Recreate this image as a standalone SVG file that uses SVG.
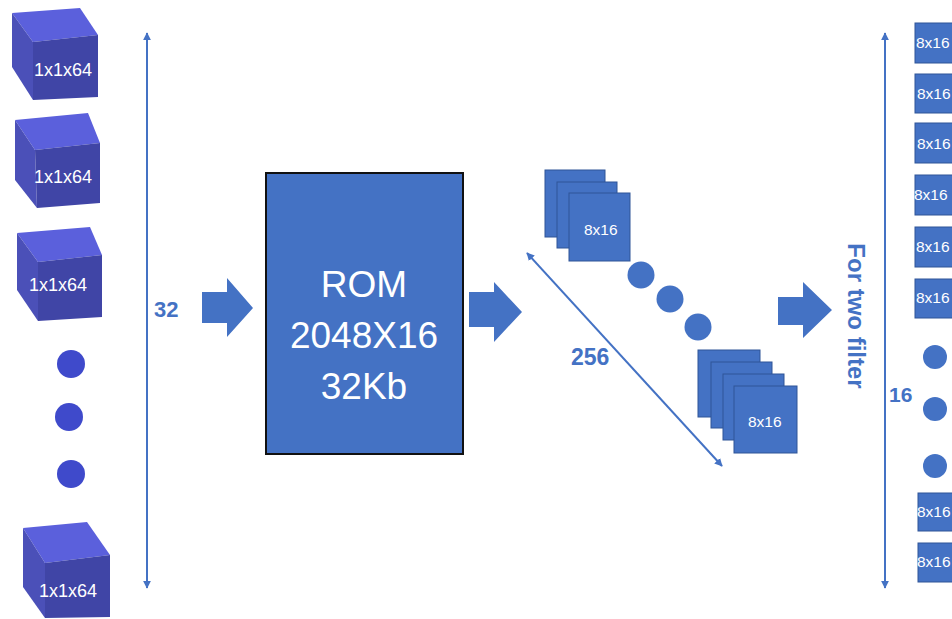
<svg xmlns="http://www.w3.org/2000/svg" width="952" height="619" viewBox="0 0 952 619">
  <defs>
    <marker id="tip" viewBox="0 0 10 10" refX="9" refY="5" markerWidth="4" markerHeight="4" orient="auto-start-reverse" markerUnits="strokeWidth">
      <path d="M0,0 L10,5 L0,10 Z" fill="#4472c4"/>
    </marker>
  </defs>
  <style>
    .top { fill: #5b60dc; }
    .front { fill: #4045a6; }
    .side { fill: #4b50b8; }
    .cubelbl { font-family: "Liberation Sans", Arial, sans-serif; font-size: 18px; fill: #ffffff; text-anchor: middle; }
    .dotL { fill: #3f4acb; }
    .dot { fill: #4472c4; }
    .sheet { fill: #4472c4; stroke: #2f5597; stroke-width: 1; }
    .lbl8 { font-family: "Liberation Sans", Arial, sans-serif; font-size: 15.5px; fill: #ffffff; }
    .dim { stroke: #4472c4; stroke-width: 2; fill: none; marker-start: url(#tip); marker-end: url(#tip); }
    .dimtxt { font-family: "Liberation Sans", Arial, sans-serif; font-weight: bold; fill: #4472c4; }
    .blk { fill: #4472c4; }
    .rom { fill: #4472c4; stroke: #111111; stroke-width: 2; }
    .romtxt { font-family: "Liberation Sans", Arial, sans-serif; font-size: 37px; fill: #ffffff; text-anchor: middle; }
  </style>

  <rect width="952" height="619" fill="#ffffff"/>

  <!-- input vectors -->
  <g id="cube1">
    <polygon class="top" points="12,13 80,8 98,35 33,42"/>
    <polygon class="side" points="12,13 33,42 33,100 12,67"/>
    <polygon class="front" points="33,42 98,35 98,97 33,100"/>
    <text class="cubelbl" x="63" y="76">1x1x64</text>
  </g>
  <g id="cube2">
    <polygon class="top" points="15,120 88,113 100,143 35,150"/>
    <polygon class="side" points="15,120 35,150 37,208 15,180"/>
    <polygon class="front" points="35,150 100,143 100,203 37,208"/>
    <text class="cubelbl" x="63" y="183">1x1x64</text>
  </g>
  <g id="cube3">
    <polygon class="top" points="17,233 90,227 102,255 38,262"/>
    <polygon class="side" points="17,233 38,262 38,321 17,290"/>
    <polygon class="front" points="38,262 102,255 102,317 38,321"/>
    <text class="cubelbl" x="58" y="291">1x1x64</text>
  </g>
  <g id="cube-dots">
    <circle class="dotL" cx="71" cy="364" r="14"/>
    <circle class="dotL" cx="69" cy="417" r="14"/>
    <circle class="dotL" cx="71" cy="474" r="14"/>
  </g>
  <g id="cube4">
    <polygon class="top" points="23,528 87,522 110,555 45,563"/>
    <polygon class="side" points="23,528 45,563 45,618 23,587"/>
    <polygon class="front" points="45,563 110,555 110,617 45,618"/>
    <text class="cubelbl" x="68" y="597">1x1x64</text>
  </g>

  <!-- memory block -->
  <g id="rom">
    <rect class="rom" x="266" y="173" width="197" height="281"/>
    <text class="romtxt" x="364" y="297">ROM</text>
    <text class="romtxt" x="364" y="348">2048X16</text>
    <text class="romtxt" x="364" y="399">32Kb</text>
  </g>

  <!-- output sheets -->
  <g id="sheets-first">
    <rect class="sheet" x="545" y="170" width="60" height="67"/>
    <rect class="sheet" x="557" y="182" width="60" height="66"/>
    <rect class="sheet" x="569" y="193" width="61" height="68"/>
    <text class="lbl8" x="584" y="235">8x16</text>
  </g>
  <g id="sheet-dots">
    <circle class="dot" cx="641" cy="275" r="13.5"/>
    <circle class="dot" cx="670" cy="299" r="13.5"/>
    <circle class="dot" cx="698" cy="327" r="13.5"/>
  </g>
  <g id="sheets-last">
    <rect class="sheet" x="698" y="350" width="62" height="67"/>
    <rect class="sheet" x="711" y="362" width="61" height="66"/>
    <rect class="sheet" x="723" y="374" width="61" height="66"/>
    <rect class="sheet" x="734" y="386" width="63" height="67"/>
    <text class="lbl8" x="748" y="427">8x16</text>
  </g>

  <!-- filter rows -->
  <g id="rows">
    <rect class="sheet" x="915" y="23" width="50" height="40"/>
    <text class="lbl8" x="916" y="48">8x16</text>
    <rect class="sheet" x="915" y="74" width="50" height="39"/>
    <text class="lbl8" x="917" y="99">8x16</text>
    <rect class="sheet" x="915" y="123" width="50" height="40"/>
    <text class="lbl8" x="917" y="149">8x16</text>
    <rect class="sheet" x="915" y="175" width="50" height="40"/>
    <text class="lbl8" x="914" y="200">8x16</text>
    <rect class="sheet" x="915" y="227" width="50" height="40"/>
    <text class="lbl8" x="916" y="252">8x16</text>
    <rect class="sheet" x="915" y="279" width="50" height="39"/>
    <text class="lbl8" x="916" y="303">8x16</text>
    <circle class="dot" cx="935" cy="357" r="12"/>
    <circle class="dot" cx="935" cy="409" r="12"/>
    <circle class="dot" cx="935" cy="466" r="12"/>
    <rect class="sheet" x="918" y="493" width="50" height="38"/>
    <text class="lbl8" x="917" y="517">8x16</text>
    <rect class="sheet" x="918" y="543" width="50" height="39"/>
    <text class="lbl8" x="917" y="567">8x16</text>
  </g>

  <!-- connectors and dimensions -->
  <g id="connectors">
    <line class="dim" x1="147" y1="33" x2="147" y2="588"/>
    <text class="dimtxt" x="154" y="317" font-size="22">32</text>

    <polygon class="blk" points="202,292 227,292 227,278 253,308 227,337 227,323 202,323"/>
    <polygon class="blk" points="469,292 494,292 494,282 522,312 494,342 494,327 469,327"/>
    <polygon class="blk" points="778,297 803,297 803,282 832,310 803,338 803,325 778,325"/>

    <line class="dim" x1="527" y1="253" x2="722" y2="466"/>
    <text class="dimtxt" x="571" y="365" font-size="23">256</text>

    <text class="dimtxt" font-size="24" text-anchor="middle" transform="translate(848,316) rotate(90)">For two filter</text>

    <line class="dim" x1="885" y1="33" x2="885" y2="588"/>
    <text class="dimtxt" x="889" y="402" font-size="21">16</text>
  </g>
</svg>
